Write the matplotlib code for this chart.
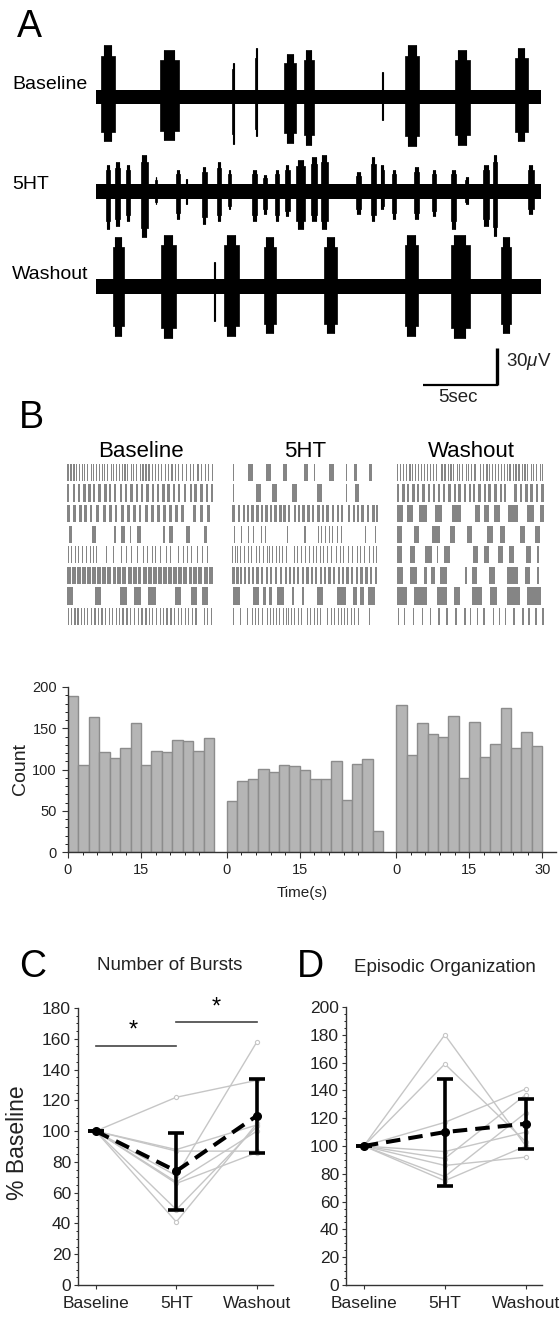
import matplotlib.pyplot as plt
from matplotlib.ticker import MultipleLocator, FixedLocator

plt.rcParams['font.family'] = ['Liberation Sans', 'DejaVu Sans']
plt.rcParams['mathtext.fontset'] = 'custom'
plt.rcParams['mathtext.it'] = 'Liberation Sans:italic'
plt.rcParams['mathtext.rm'] = 'Liberation Sans'

W, H = 560, 1317
INK = '#222222'

# ---------------- panel A: extracellular traces (s, uV) ----------------
TRACE_NAMES = ['Baseline', '5HT', 'Washout']
NOISE_UV = 6
# bursts: (start s, end s, up uV, down uV)
BASE_BURSTS = [(0.35, 1.25, 42, 36), (4.3, 5.6, 38, 35), (9.2, 9.3, 28, 38),
               (10.75, 10.85, 40, 32), (12.7, 13.5, 35, 37), (14.0, 14.7, 38, 39),
               (19.25, 19.35, 20, 19), (20.8, 21.8, 42, 40), (24.2, 25.2, 38, 39),
               (28.25, 29.1, 40, 36)]
SHT_BURSTS = [(0.7, 0.95, 22, 30), (1.3, 1.6, 24, 28), (2.0, 2.3, 22, 24), (3.0, 3.5, 30, 37),
              (4.0, 4.1, 12, 10), (5.4, 5.65, 18, 22), (6.05, 6.15, 10, 10), (7.15, 7.45, 20, 26),
              (8.15, 8.45, 24, 24), (8.9, 9.1, 18, 14), (10.55, 10.85, 18, 24), (11.25, 11.55, 14, 18),
              (12.05, 12.35, 18, 24), (12.75, 13.05, 22, 20), (13.5, 14.1, 26, 30), (14.5, 14.9, 28, 24),
              (15.15, 15.65, 30, 30), (17.55, 17.85, 16, 18), (18.55, 18.85, 28, 24), (19.2, 19.4, 22, 14),
              (19.95, 20.25, 18, 22), (21.45, 21.75, 20, 22), (22.65, 22.95, 18, 20), (23.95, 24.25, 18, 30),
              (24.9, 25.1, 12, 10), (26.1, 26.5, 22, 28), (26.75, 27.05, 30, 36), (29.1, 29.5, 22, 18)]
WASH_BURSTS = [(1.15, 1.9, 40, 40), (4.4, 5.4, 42, 42), (7.95, 8.05, 20, 28), (8.65, 9.65, 42, 40),
               (11.3, 12.15, 40, 38), (15.4, 16.25, 40, 38), (20.8, 21.7, 42, 40),
               (23.9, 25.2, 42, 42), (27.3, 28.0, 40, 38)]
TRACE_LEN_S = 30
SCALE_T, SCALE_UV = 5, 30

# ---------------- panel B: raster (start s, duration s) per trial ----------------
def thin(times, w=0.25):
    return [(t, w) for t in times]

RASTER_BASELINE = [
    thin([0.1, 0.7, 1.3, 1.8, 2.4, 3.0, 3.5, 4.1, 4.8, 5.3, 5.9, 6.5, 7.1, 7.6, 8.2, 8.9, 9.4, 10.0,
          10.6, 11.2, 11.7, 12.3, 13.0, 13.5, 14.1, 14.8, 15.4, 16.0, 16.6, 17.3, 17.9, 18.5, 19.2,
          20.0, 20.6, 21.3, 22.0, 22.6, 23.4, 24.2, 25.0, 25.7, 26.6, 27.4, 28.1, 28.8, 29.5]),
    thin([0.0, 1.2, 2.2, 3.3, 4.3, 5.3, 6.4, 7.6, 8.5, 9.6, 10.8, 11.8, 12.9, 14.0, 15.1, 16.2, 17.3,
          18.3, 19.4, 20.5, 21.6, 22.6, 23.8, 25.0, 26.0, 27.2, 28.3, 29.3], 0.5),
    thin([0.0, 1.3, 2.5, 3.5, 4.6, 6.0, 7.3, 8.6, 9.7, 11.0, 12.3, 13.5, 14.6, 15.9, 17.2, 18.4, 19.6,
          20.8, 22.0, 23.2, 25.8, 27.2, 28.6], 0.6),
    [(0.5, 0.5), (5.0, 0.9), (9.6, 0.3), (11.0, 0.9), (12.8, 0.3), (14.2, 0.8), (19.6, 0.3),
     (20.8, 0.9), (24.2, 0.9), (28.0, 0.6)],
    thin([0.3, 0.9, 1.6, 2.3, 3.0, 3.8, 4.6, 5.4, 6.0, 8.0, 9.3, 11.0, 12.0, 13.0, 14.3, 15.6, 16.4,
          17.3, 18.0, 19.0, 20.2, 21.0, 22.6, 23.6, 24.4, 25.4, 26.6, 27.6, 28.6], 0.2),
    thin([0.0, 1.0, 2.0, 3.1, 4.1, 5.1, 6.2, 7.2, 8.2, 9.3, 10.3, 11.3, 12.4, 13.4, 14.4, 15.5, 16.5,
          17.5, 18.6, 19.6, 20.6, 21.7, 22.7, 23.7, 24.8, 25.8, 26.8, 27.9, 28.9], 0.8),
    [(0.0, 1.2), (5.7, 1.3), (10.9, 1.3), (13.7, 1.3), (16.6, 1.6), (22.0, 1.3), (25.4, 1.2), (27.5, 1.3)],
    thin([0.2, 0.8, 1.5, 2.1, 2.8, 3.5, 4.1, 4.9, 5.6, 6.3, 7.0, 7.8, 8.5, 9.2, 9.9, 10.6, 11.3, 12.1,
          12.9, 13.6, 14.4, 15.2, 16.0, 16.7, 17.4, 18.1, 18.9, 19.6, 20.3, 21.1, 21.8, 22.6, 23.3,
          24.0, 24.7, 25.5, 26.2, 27.9, 28.6, 29.3]),
]
RASTER_5HT = [
    thin([0.2, 0.55, 13.3, 16.9, 23.4], 0.15) + [(3.3, 1.0), (7.0, 1.0), (10.4, 1.0), (14.7, 1.0),
                                               (20.0, 1.0), (25.0, 0.7), (28.1, 0.7)],
    thin([0.2, 23.4], 0.15) + [(5.0, 1.0), (8.2, 1.0), (12.3, 1.0), (17.5, 1.0), (25.3, 0.8)],
    thin([0.1, 1.2, 2.2, 3.0, 4.0, 5.0, 5.9, 6.8, 7.8, 8.7, 9.7, 10.5, 11.5, 12.7, 13.5, 14.4, 15.5,
          16.4, 17.5, 18.5, 19.4, 20.5, 21.5, 22.4, 23.8, 24.8, 25.6, 26.6, 27.7, 28.8, 29.5], 0.5),
    thin([0.5, 1.9, 3.2, 4.4, 6.0, 6.7, 7.5, 11.3, 17.6, 18.2, 19.2, 20.0, 20.6, 21.5, 22.3, 27.4,
          29.3], 0.2) + [(14.8, 0.35)],
    thin([0.1, 0.6, 1.1, 1.7, 2.5, 3.3, 4.0, 4.9, 5.5, 6.3, 7.1, 7.7, 8.3, 9.0, 9.6, 10.2, 11.0, 12.7,
          13.4, 14.2, 15.0, 15.8, 16.6, 17.3, 18.1, 18.8, 19.6, 20.4, 21.3, 22.1, 22.9, 23.8, 24.7,
          25.6, 26.3, 27.2, 28.1, 28.9, 29.6], 0.2),
    thin([0.1, 0.9, 1.6, 2.4, 3.3, 4.1, 5.0, 6.0, 6.9, 7.8, 8.8, 9.8, 10.8, 11.7, 12.5, 13.4, 14.3,
          15.3, 16.2, 17.1, 18.0, 18.9, 19.8, 20.7, 21.7, 22.6, 23.5, 24.5, 25.5, 26.4, 27.4, 28.4,
          29.3], 0.45),
    [(0.2, 1.5), (4.3, 1.3), (6.4, 0.5), (7.7, 0.5), (9.2, 1.5), (12.3, 0.4), (14.3, 0.4),
     (17.5, 1.3), (21.5, 2.0), (24.8, 0.8), (26.4, 0.8), (28.0, 1.3)],
    thin([0.3, 1.6, 3.0, 3.6, 4.2, 4.8, 5.4, 6.1, 7.2, 7.8, 8.4, 9.0, 9.7, 10.4, 11.0, 11.6, 12.2,
          12.8, 13.5, 14.2, 14.9, 15.5, 16.1, 16.8, 17.4, 18.0, 19.6, 20.3, 21.0, 21.7, 22.4, 23.0,
          23.7, 24.4, 25.0, 25.8, 28.1], 0.2),
]
RASTER_WASHOUT = [
    thin([0.0, 0.6, 1.2, 1.8, 2.5, 3.0, 3.6, 4.3, 4.8, 5.4, 6.1, 6.6, 7.2, 7.9, 9.0, 9.6, 10.3, 10.8,
          11.4, 12.1, 12.6, 13.2, 13.9, 14.4, 15.0, 15.7, 16.8, 17.4, 18.1, 18.6, 19.2, 19.9, 20.4,
          21.0, 21.7, 22.2, 22.8, 23.5, 24.0, 24.6, 25.3, 25.8, 26.4, 27.1, 27.6, 28.2, 28.9, 29.4]),
    thin([0.0, 1.1, 2.0, 3.1, 4.0, 5.1, 6.2, 7.2, 8.3, 9.3, 10.4, 11.5, 12.4, 13.5, 14.6, 15.4, 16.5,
          17.6, 18.5, 19.7, 20.8, 21.6, 23.8, 24.9, 26.0, 27.0, 28.1, 29.2], 0.5),
    [(0.0, 1.3), (2.0, 1.3), (4.4, 1.7), (7.8, 1.3), (11.2, 1.7), (15.9, 1.0), (17.6, 1.0),
     (19.6, 1.3), (22.6, 2.0), (26.4, 1.3), (29.0, 0.8)],
    [(0.0, 1.0), (3.4, 1.0), (7.1, 1.7), (10.8, 1.0), (14.2, 1.0), (18.2, 1.3), (20.9, 1.0),
     (25.0, 1.0), (28.0, 1.0)],
    [(0.0, 1.0), (2.7, 1.0), (5.7, 1.3), (8.1, 0.3), (9.5, 1.3), (15.5, 1.0), (17.7, 1.0),
     (20.4, 1.0), (22.8, 1.0), (26.2, 1.0), (28.4, 0.4)],
    [(0.0, 1.3), (2.7, 1.3), (5.4, 0.7), (6.8, 1.0), (8.8, 1.3), (13.8, 0.3), (15.2, 1.0),
     (18.6, 1.3), (22.3, 2.3), (26.0, 1.0), (28.4, 0.4)],
    [(0.0, 2.0), (3.4, 2.7), (8.1, 2.0), (11.5, 1.3), (15.2, 2.0), (18.9, 1.3), (22.3, 2.7),
     (26.4, 2.7)],
    thin([0.2, 1.4, 3.2, 5.0, 6.6, 8.4, 10.0, 11.8, 13.6, 14.8, 16.2, 17.5, 19.4, 20.6, 21.8, 23.6,
          25.4, 26.6, 28.0, 29.4], 0.3),
]

# ---------------- panel B: spike count histogram ----------------
HIST_BASELINE = [189, 106, 164, 121, 114, 126, 156, 105, 123, 121, 136, 135, 122, 138]
HIST_5HT = [62, 86, 89, 101, 97, 105, 104, 100, 88, 89, 110, 63, 107, 113, 26]
HIST_WASHOUT = [178, 117, 156, 143, 140, 165, 90, 158, 115, 131, 175, 126, 146, 128]
BIN_S = 30 / 14
SEGMENT_START = [0, 32.6, 67.4]   # where each recording starts on the shared time axis

# ---------------- panels C, D ----------------
GROUPS = ['Baseline', '5HT', 'Washout']
BURSTS_INDIV = [[100, 122, 133], [100, 88, 104], [100, 87, 87], [100, 71, 158],
                [100, 67, 100], [100, 66, 86], [100, 49, 103], [100, 41, 105]]
BURSTS_MEAN = [100, 74, 110]
BURSTS_SD = [0, 25, 24]
EPISODIC_INDIV = [[100, 180, 100], [100, 159, 103], [100, 117, 141], [100, 96, 110],
                  [100, 91, 137], [100, 86, 92], [100, 78, 124], [100, 75, 100]]
EPISODIC_MEAN = [100, 110, 116]
EPISODIC_SD = [0, 38.5, 18]


def box(x0, y0, x1, y1):
    return [x0 / W, 1 - y1 / H, (x1 - x0) / W, (y1 - y0) / H]


def ftext(fig, x, y, s, **kw):
    fig.text(x / W, 1 - y / H, s, color=kw.pop('color', INK), **kw)


def draw_trace(ax, bursts, off):
    ax.fill_between([0, TRACE_LEN_S], off - NOISE_UV, off + NOISE_UV, color='k', lw=0)
    for t0, t1, up, dn in bursts:
        # lower shoulder across the whole burst, full height in its core
        ax.fill_between([t0, t1], off - 0.8 * dn, off + 0.8 * up, color='k', lw=0.5, edgecolor='k')
        span = t1 - t0
        ax.fill_between([t0 + 0.2 * span, t1 - 0.25 * span], off - dn, off + up,
                        color='k', lw=0.5, edgecolor='k')
        ax.vlines([t0 + 0.2 * span, t1 - 0.25 * span], off - dn, off + up, color='k', lw=0.8)


def style_spines(ax):
    for s in ['top', 'right']:
        ax.spines[s].set_visible(False)
    for s in ['left', 'bottom']:
        ax.spines[s].set_color('#333333')
        ax.spines[s].set_linewidth(1.0)
    ax.tick_params(colors='#333333', labelcolor=INK)


def stat_panel(ax, indiv, mean, sd, ymax):
    x = list(range(len(GROUPS)))
    for row in indiv:
        ax.plot(x, row, color='#c6c6c6', lw=1.0, marker='o', ms=3, mfc='white',
                mec='#c6c6c6', mew=0.8, zorder=1)
    ax.errorbar(x, mean, yerr=sd, fmt='none', ecolor='k', elinewidth=2.6,
                capsize=5.5, capthick=2.6, zorder=3)
    ax.plot(x, mean, color='k', lw=2.9, ls=(0, (3.6, 2.0)), marker='o', ms=5.5, zorder=4)
    ax.set_xlim(-0.22, 2.2)
    ax.set_ylim(0, ymax)
    ax.set_xticks(x)
    ax.set_xticklabels(GROUPS, fontsize=12.5)
    ax.yaxis.set_major_locator(MultipleLocator(20))
    ax.yaxis.set_minor_locator(MultipleLocator(5))
    ax.tick_params(axis='y', labelsize=12.5, length=3, pad=2)
    ax.tick_params(axis='y', which='minor', length=1.5)
    ax.tick_params(axis='x', length=3, pad=5)
    style_spines(ax)


fig = plt.figure(figsize=(W / 100, H / 100), dpi=100)

# ---- A ----
axA = fig.add_axes(box(96, 30, 541, 400))
axA.set_xlim(0, TRACE_LEN_S)
axA.set_ylim(-246.3, 54.5)
axA.axis('off')
for bursts, off in zip([BASE_BURSTS, SHT_BURSTS, WASH_BURSTS], [0, -77, -154]):
    draw_trace(axA, bursts, off)
sb_t, sb_y = 27.04, -234.1
axA.plot([sb_t, sb_t], [sb_y, sb_y + SCALE_UV], color='k', lw=2.4, solid_capstyle='butt')
axA.plot([sb_t - SCALE_T, sb_t + 0.08], [sb_y, sb_y], color='k', lw=1.6, solid_capstyle='butt')
ftext(fig, 506, 362, '30$\\mu$V', fontsize=13.5, va='center')
ftext(fig, 458, 397, '5sec', fontsize=13.5, va='center', ha='center')
ftext(fig, 17, 37, 'A', fontsize=27, color='k')
for name, yb in zip(TRACE_NAMES, [89, 189, 279]):
    ftext(fig, 12, yb, name, fontsize=14, color='k')

# ---- B raster ----
ftext(fig, 19, 428, 'B', fontsize=27, color='k')
for rows, (x0, x1), name in zip([RASTER_BASELINE, RASTER_5HT, RASTER_WASHOUT],
                                [(67, 214), (232, 378), (397, 545)], TRACE_NAMES):
    ax = fig.add_axes(box(x0, 462, x1, 627))
    for i, row in enumerate(rows):
        y = len(rows) - 1 - i
        ax.broken_barh(row, (y + 0.08, 0.84), facecolors='#858585', lw=0)
    ax.set_xlim(0, 30)
    ax.set_ylim(0, len(rows))
    ax.axis('off')
    ftext(fig, (x0 + x1) / 2, 457, name, fontsize=16, ha='center', color='k')

# ---- B histogram ----
axH = fig.add_axes(box(68, 687, 556, 852))
for counts, s0 in zip([HIST_BASELINE, HIST_5HT, HIST_WASHOUT], SEGMENT_START):
    lefts = [s0 + i * BIN_S for i in range(len(counts))]
    axH.bar(lefts, counts, width=BIN_S, align='edge', color='#b5b5b5',
            edgecolor='#8c8c8c', lw=1.0)
axH.set_xlim(0, 100.2)
axH.set_ylim(0, 200)
major = [s0 + t for s0 in SEGMENT_START for t in (0, 15)] + [SEGMENT_START[2] + 30]
minor = [s0 + t for s0 in SEGMENT_START for t in range(3, 30, 3) if t != 15]
axH.xaxis.set_major_locator(FixedLocator(major))
axH.set_xticklabels(['0', '15', '0', '15', '0', '15', '30'])
axH.xaxis.set_minor_locator(FixedLocator(minor))
axH.yaxis.set_major_locator(MultipleLocator(50))
axH.yaxis.set_minor_locator(MultipleLocator(10))
axH.tick_params(labelsize=10.5, length=4, pad=4)
axH.tick_params(which='minor', length=2)
style_spines(axH)
ftext(fig, 20, 769, 'Count', fontsize=14, rotation=90, ha='center', va='center')
ftext(fig, 302, 893, 'Time(s)', fontsize=11, ha='center', va='center')

# ---- C ----
axC = fig.add_axes(box(78, 1008, 273, 1285))
stat_panel(axC, BURSTS_INDIV, BURSTS_MEAN, BURSTS_SD, 180)
axC.plot([0, 1], [155, 155], color='#444444', lw=1.2)
axC.plot([1, 2], [171, 171], color='#444444', lw=1.2)
axC.text(0.46, 158, '*', fontsize=17, ha='center', va='bottom', color='k')
axC.text(1.49, 173, '*', fontsize=17, ha='center', va='bottom', color='k')
ftext(fig, 19, 977, 'C', fontsize=27, color='k')
ftext(fig, 170, 966, 'Number of Bursts', fontsize=13.5, ha='center', va='center')
ftext(fig, 18, 1143, '% Baseline', fontsize=16.5, rotation=90, ha='center', va='center')

# ---- D ----
axD = fig.add_axes(box(346, 1007, 542, 1285))
stat_panel(axD, EPISODIC_INDIV, EPISODIC_MEAN, EPISODIC_SD, 200)
ftext(fig, 297, 977, 'D', fontsize=27, color='k')
ftext(fig, 445, 968, 'Episodic Organization', fontsize=13.5, ha='center', va='center')

fig.savefig('out.png', dpi=100)
